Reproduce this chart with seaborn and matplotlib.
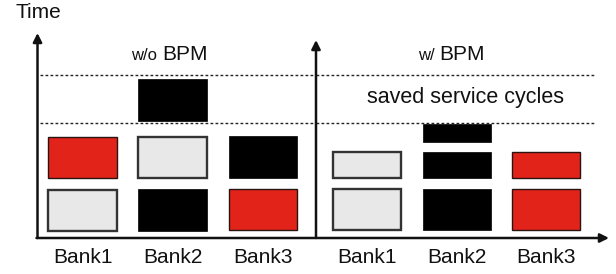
import matplotlib
matplotlib.use("Agg")
import matplotlib.pyplot as plt
import seaborn as sns

banks = ["Bank1", "Bank2", "Bank3"]

# w/o BPM: one block per request, start and length in time units
wo_bank = ["Bank1", "Bank1", "Bank2", "Bank2", "Bank2", "Bank3", "Bank3"]
wo_start = [0.7, 6.0, 0.7, 6.0, 11.7, 0.8, 6.0]
wo_len = [4.1, 4.1, 4.2, 4.1, 4.2, 4.1, 4.2]
wo_kind = ["light", "red", "black", "light", "black", "red", "black"]

# w/ BPM
w_bank = ["Bank1", "Bank1", "Bank2", "Bank2", "Bank2", "Bank3", "Bank3"]
w_start = [0.8, 6.0, 0.8, 6.0, 9.6, 0.8, 6.0]
w_len = [4.1, 2.6, 4.1, 2.6, 1.8, 4.1, 2.6]
w_kind = ["light", "light", "black", "black", "black", "red", "red"]

# dotted guide lines (time units)
guides = [16.3, 11.5]

styles = {
    "light": dict(color="#e8e8e8", edgecolor="#333333", linewidth=1.7),
    "red": dict(color="#e2231a", edgecolor="#2a1412", linewidth=1.0),
    "black": dict(color="#000000", edgecolor="#000000", linewidth=0.5),
}

sns.set_theme(style="white")
plt.rcParams["font.family"] = ["Liberation Sans", "DejaVu Sans"]

fig = plt.figure(figsize=(6.16, 2.74), dpi=100)
bottom = (274 - 238) / 274
height = 205 / 274
ax1 = fig.add_axes([37.5 / 616, bottom, (316 - 37.5) / 616, height])
ax2 = fig.add_axes([316 / 616, bottom, 292 / 616, height])

ink = "#111111"

for ax, bk, st, ln, kd, xl, gx in [
    (ax1, wo_bank, wo_start, wo_len, wo_kind, (-0.5, 2.59), (-0.47, 2.59)),
    (ax2, w_bank, w_start, w_len, w_kind, (-0.575, 2.69), (-0.575, 2.54)),
]:
    for b, s, l, k in zip(bk, st, ln, kd):
        sty = styles[k]
        sns.barplot(x=[b], y=[l], order=banks, bottom=s, ax=ax,
                    color=sty["color"], saturation=1, width=0.76,
                    errorbar=None, edgecolor=sty["edgecolor"],
                    linewidth=sty["linewidth"])
    ax.set_xlim(*xl)
    ax.set_ylim(0, 20.5)
    ax.patch.set_alpha(0)
    for sp in ax.spines.values():
        sp.set_visible(False)
    ax.set_yticks([])
    ax.set_xlabel("")
    ax.set_ylabel("")
    ax.tick_params(axis="x", length=0, pad=7, labelsize=15, labelcolor=ink)
    for g in guides:
        ax.hlines(g, gx[0], gx[1], colors="#222222", linewidth=1.0,
                  linestyles=(0, (2.0, 1.6)), clip_on=False)

arrow = dict(arrowstyle="-|>", color=ink, lw=1.8, mutation_scale=13,
             shrinkA=0, shrinkB=0)
# y axes
ax1.annotate("", xy=(-0.5, 20.5), xytext=(-0.5, 0), arrowprops=arrow,
             annotation_clip=False)
ax2.annotate("", xy=(-0.575, 19.8), xytext=(-0.575, 0), arrowprops=arrow,
             annotation_clip=False)
# shared time axis baseline
fig.add_artist(matplotlib.patches.FancyArrowPatch(
    (36.5 / 616, bottom), (609 / 616, bottom), transform=fig.transFigure,
    **arrow))

fig.text(15 / 616, 1 - 13 / 274, "Time", fontsize=15, ha="left",
         va="center", color=ink)
fig.text(157 / 616, 1 - 60 / 274, "w/o", fontsize=12, ha="right",
         va="baseline", color=ink)
fig.text(162 / 616, 1 - 60 / 274, "BPM", fontsize=15, ha="left",
         va="baseline", color=ink)
fig.text(435 / 616, 1 - 60 / 274, "w/", fontsize=12, ha="right",
         va="baseline", color=ink)
fig.text(439 / 616, 1 - 60 / 274, "BPM", fontsize=15, ha="left",
         va="baseline", color=ink)
fig.text(466 / 616, 1 - 98 / 274, "saved service cycles", fontsize=15.5,
         ha="center", va="center", color=ink)

fig.savefig("out.png", dpi=100)
